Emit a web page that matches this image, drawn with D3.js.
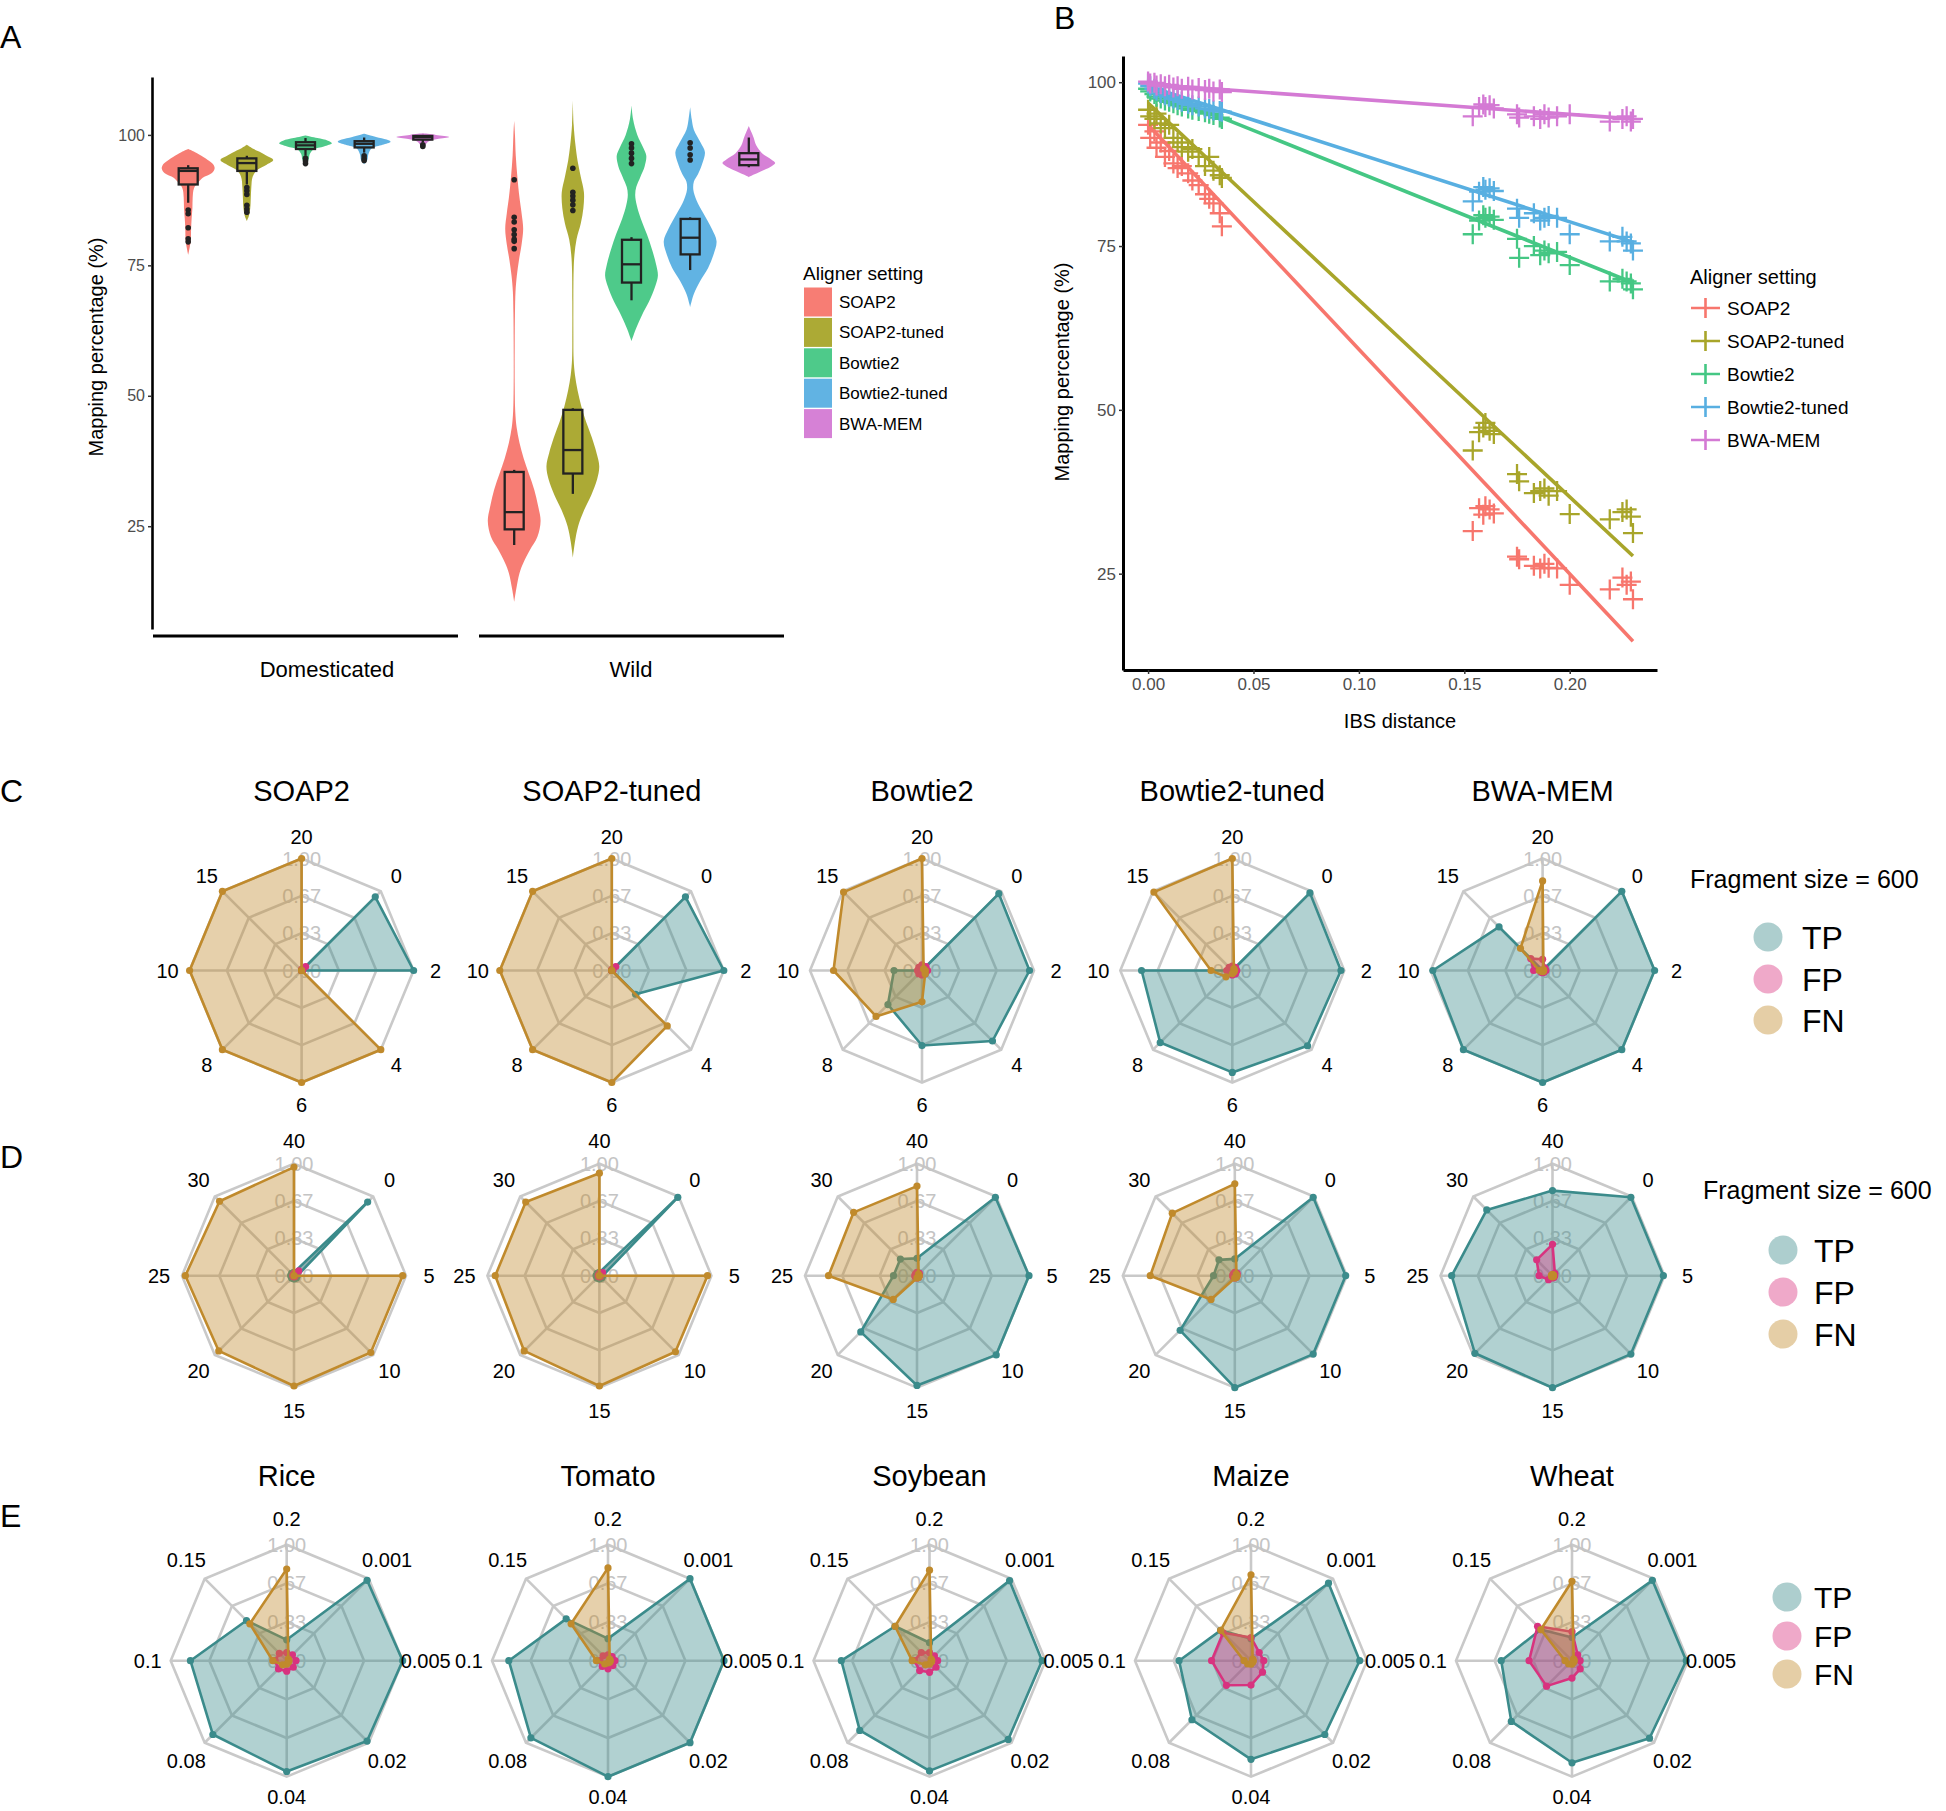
<!DOCTYPE html>
<html><head><meta charset="utf-8">
<script src="https://cdn.jsdelivr.net/npm/d3@7"></script>
<style>
body{margin:0;background:#fff}
svg{display:block}
text{font-family:"Liberation Sans",Arial,Helvetica,sans-serif}
</style>
</head><body>
<svg id="chart" width="1946" height="1811"></svg>
<script>
// ---------------- DATA ----------------
const aligners = ["SOAP2","SOAP2-tuned","Bowtie2","Bowtie2-tuned","BWA-MEM"];
const alignerColors = ["#F7766D","#A8A52A","#45C784","#58AFE1","#D47AD4"];
const groups = ["Domesticated","Wild"];
const yTicksA = [25,50,75,100];

// violin density profiles: [mapping %, relative width]
const domViolins = [
  [[97.3,0],[96.6,0.3],[96,0.5],[95,0.8],[94.2,0.97],[93.5,1.0],[92.7,0.9],[91.8,0.55],[91,0.4],[89.8,0.22],[88,0.17],[86,0.16],[84,0.13],[82,0.11],[80,0.1],[78.5,0.06],[77,0]],
  [[98.1,0],[97.4,0.22],[96.6,0.55],[96,0.75],[95.2,1.0],[94.3,0.75],[93.3,0.4],[92,0.22],[90,0.17],[88,0.15],[86,0.13],[84.5,0.08],[83.5,0]],
  [[99.9,0],[99.4,0.45],[98.9,0.85],[98.4,1.0],[97.8,0.7],[97.2,0.3],[96.3,0.16],[95.3,0.12],[94.2,0]],
  [[100.2,0],[99.6,0.45],[99.1,0.85],[98.7,1.0],[98.1,0.7],[97.4,0.28],[96.3,0.16],[95.2,0.12],[94.4,0]],
  [[100.3,0],[100,0.5],[99.6,1.0],[99.2,0.55],[98.7,0.2],[98.1,0.1],[97.5,0]]
];
const wildViolins = [
  [[102.7,0],[100,0.03],[96,0.06],[92,0.12],[88,0.2],[85,0.28],[82,0.34],[79,0.28],[76,0.18],[73,0.1],[70,0.05],[66,0.03],[60,0.02],[52,0.02],[47,0.04],[44,0.09],[41,0.2],[38,0.36],[35,0.56],[32,0.76],[29,0.9],[26,1.0],[23,0.88],[20.5,0.6],[18,0.35],[16,0.2],[13,0.08],[10.5,0]],
  [[106.6,0],[102,0.03],[98,0.1],[95,0.18],[92,0.3],[89,0.42],[86,0.4],[83,0.3],[80,0.14],[77,0.06],[74,0.03],[68,0.02],[62,0.02],[57,0.03],[54,0.08],[51,0.18],[48,0.32],[45,0.5],[42,0.72],[39,0.9],[36.5,1.0],[34,0.92],[31,0.7],[28,0.42],[25,0.2],[22,0.08],[19,0]],
  [[105.7,0],[103,0.06],[100,0.22],[97.5,0.45],[96,0.56],[94,0.5],[92,0.34],[90,0.18],[88.5,0.14],[86.5,0.2],[84,0.35],[81,0.58],[78,0.78],[75,0.94],[73,1.0],[71,0.9],[68,0.66],[65.5,0.4],[63,0.18],[60.5,0]],
  [[105.3,0],[103,0.06],[101,0.14],[98.5,0.4],[96.7,0.56],[94.5,0.46],[92.5,0.3],[91,0.14],[89.5,0.12],[87.5,0.24],[85,0.5],[82,0.82],[79.6,1.0],[77,0.88],[74.5,0.68],[72,0.38],[69.5,0.14],[67,0]],
  [[101.7,0],[100.5,0.1],[99.5,0.18],[98,0.28],[96.5,0.5],[95.3,0.85],[94.6,1.0],[93.8,0.8],[93,0.45],[92.3,0.15],[91.9,0]]
];
// box stats: [q1, median, q3, whisker low, whisker high]
const domBoxes = [[90.5,93.1,93.6,87.0,94.2],[93.1,94.6,95.5,90.5,96.0],[97.3,98.0,98.6,96.0,99.4],[97.6,98.3,98.8,96.6,99.5],[99.1,99.6,99.8,98.6,100.0]];
const wildBoxes = [[24.4,27.7,35.4,21.4,35.8],[35.1,39.6,47.3,31.2,47.6],[71.7,75.2,79.9,68.3,80.4],[77.1,80.3,83.9,74.1,84.2],[94.2,95.3,96.5,93.8,99.5]];
const domOutliers = [[85.6,84.9,82.2,80.1,79.5],[89.9,89.3,88.6,86.5,85.8,85.2],[95.5,95.0,94.5],[96.0,95.5,95.1],[98.1,97.8]];
const wildOutliers = [[91.4,84.2,83.3,81.8,80.9,80.0,79.6,78.2],[93.6,89.0,88.3,87.5,86.6,85.5],[98.3,97.5,96.5,95.5,94.5],[98.5,97.5,96.2,95.2],[]];

// panel B: IBS distance vs mapping %
const ibsDistance = [0.000,0.001,0.003,0.004,0.006,0.008,0.010,0.012,0.014,0.016,0.019,0.021,0.024,0.027,0.029,0.031,0.034,0.035,
  0.154,0.157,0.159,0.160,0.162,0.164,0.175,0.176,0.183,0.186,0.188,0.190,0.194,0.200,0.219,0.225,0.227,0.229,0.230];
const mapSOAP2 = [93.5,91.5,92.5,90.0,90.8,88.6,89.5,87.6,86.9,87.2,86.1,85.0,84.3,82.9,82.2,81.5,80.0,78.0,
  31.5,35.0,34.0,35.3,34.8,34.2,27.6,27.2,26.2,25.8,26.5,25.9,25.8,23.3,22.6,24.4,23.3,23.8,21.1];
const mapSOAP2tuned = [95.8,94.8,94.4,95.2,93.7,93.0,93.5,91.5,90.8,90.1,89.4,89.8,88.6,87.2,88.6,86.5,85.8,85.4,
  43.8,46.6,47.3,48.0,46.8,46.3,40.2,39.1,37.3,37.6,38.0,36.9,37.6,34.1,33.3,34.4,34.8,33.7,31.2];
const mapBowtie2 = [99.0,98.6,98.2,97.8,97.5,97.2,97.0,96.8,96.5,96.3,96.0,95.8,95.6,95.4,95.2,95.0,94.6,94.4,
  76.8,78.9,79.7,79.3,79.5,79.0,76.1,73.2,75.0,73.6,74.3,73.9,74.1,72.1,69.6,70.0,69.6,69.3,68.4];
const mapBowtie2tuned = [99.8,99.4,99.0,98.7,98.3,98.0,97.8,97.5,97.3,97.0,96.7,96.5,96.3,96.0,95.9,95.7,95.6,95.5,
  81.8,83.3,84.0,83.6,83.8,83.4,80.7,79.3,80.0,78.9,79.3,79.6,79.3,76.8,75.7,76.4,75.7,75.4,74.3];
const mapBWAMEM = [100.1,99.8,99.9,99.5,99.7,99.4,99.6,99.2,99.4,99.0,99.3,98.9,99.1,98.8,99.0,98.6,98.9,98.5,
  94.8,96.2,96.6,96.2,96.5,96.0,95.1,94.6,94.8,94.4,95.1,94.6,94.8,95.1,94.0,94.4,94.8,94.0,94.4];
// fitted linear trend, value at IBS 0 and at IBS 0.23
const fitRange = [0, 0.23];
const fitStart = [93.5, 96.8, 99.1, 99.4, 99.7];
const fitEnd = [14.7, 27.7, 69.4, 75.6, 94.4];
const xTicksB = [0, 0.05, 0.10, 0.15, 0.20];
const yTicksB = [25, 50, 75, 100];

// radar panels
const radarSeries = ["TP","FP","FN"];
const radarColors = ["#3b8b8b","#d8337f","#c08a2c"];
const gridLevels = [0.333, 0.667, 1.0];
const gridLabels = ["0.00","0.33","0.67","1.00"];
const cCats = ["0","2","4","6","8","10","15","20"];
const cTP = [[0.93,1.0,0,0,0,0,0,0],[0.93,1.0,0.3,0,0,0,0,0],[0.97,0.96,0.89,0.67,0.43,0.25,0,0],[0.98,0.97,0.95,0.91,0.91,0.81,0,0],[1.0,1.0,1.0,1.0,1.0,0.98,0.55,0]];
const cFP = [[0.05,0.01,0,0,0,0,0,0.01],[0.05,0.01,0,0,0,0,0,0.01],[0.05,0.05,0.04,0.04,0.04,0.04,0.04,0.05],[0.04,0.04,0.04,0.04,0.04,0.05,0.04,0.04],[0.03,0.03,0.02,0.02,0.02,0.08,0.15,0.1]];
const cFN = [[0,0,1.0,1.0,1.0,1.0,1.0,1.0],[0,0,0.7,1.0,1.0,1.0,1.0,1.0],[0.02,0.03,0.04,0.28,0.58,0.79,0.99,1.0],[0.02,0.02,0.02,0.03,0.08,0.19,0.99,1.0],[0.01,0.01,0.01,0.01,0.01,0.03,0.28,0.8]];
const dCats = ["0","5","10","15","20","25","30","40"];
const dTP = [[0.93,0.03,0.03,0.03,0.03,0.03,0.03,0.03],[0.99,0.03,0.03,0.03,0.03,0.03,0.03,0.03],[0.99,1.0,1.0,0.98,0.71,0.21,0.21,0.155],[0.99,0.99,0.99,1.0,0.69,0.19,0.2,0.15],[0.99,0.99,0.99,1.0,0.98,0.9,0.83,0.76]];
const dFP = [[0.06,0.01,0.01,0.01,0.01,0.01,0.01,0.02],[0.04,0.01,0.01,0.01,0.01,0.01,0.01,0.02],[0.03,0.02,0.02,0.02,0.02,0.02,0.02,0.03],[0.03,0.02,0.02,0.02,0.02,0.02,0.02,0.03],[0.03,0.02,0.02,0.02,0.05,0.12,0.2,0.28]];
const dFN = [[0,0.97,0.97,0.985,0.95,0.97,0.94,0.97],[0,0.965,0.96,0.985,0.95,0.93,0.93,0.915],[0.02,0.02,0.02,0.02,0.3,0.79,0.8,0.8],[0.02,0.02,0.02,0.02,0.3,0.755,0.79,0.82],[0.01,0.01,0.01,0.01,0.01,0.01,0.01,0.01]];
const species = ["Rice","Tomato","Soybean","Maize","Wheat"];
const eCats = ["0.001","0.005","0.02","0.04","0.08","0.1","0.15","0.2"];
const eTP = [[0.98,1.0,0.98,0.955,0.9,0.83,0.49,0.18],[1.0,1.0,1.0,1.0,0.94,0.855,0.51,0.19],[0.976,0.97,0.96,0.95,0.85,0.76,0.42,0.155],[0.945,0.937,0.9,0.85,0.72,0.62,0.37,0.19],[0.98,0.985,0.945,0.88,0.74,0.61,0.38,0.2]];
const eFP = [[0.07,0.08,0.08,0.09,0.1,0.1,0.09,0.07],[0.05,0.06,0.06,0.07,0.07,0.07,0.06,0.05],[0.06,0.07,0.08,0.1,0.12,0.13,0.1,0.07],[0.1,0.11,0.14,0.21,0.3,0.34,0.34,0.2],[0.07,0.07,0.1,0.15,0.31,0.37,0.42,0.25]];
const eFN = [[0.02,0.02,0.02,0.03,0.05,0.12,0.45,0.79],[0.02,0.02,0.02,0.02,0.04,0.1,0.45,0.8],[0.02,0.02,0.02,0.03,0.05,0.15,0.42,0.78],[0.02,0.02,0.02,0.03,0.04,0.06,0.37,0.74],[0.02,0.02,0.02,0.03,0.04,0.06,0.38,0.685]];
const fragmentLabel = "Fragment size = 600";

// ---------------- DRAW ----------------
const svg = d3.select("#chart");
svg.append("rect").attr("width",1946).attr("height",1811).attr("fill","#fff");

function panelLetter(t,x,y){
  svg.append("text").attr("x",x).attr("y",y).attr("font-size",32).attr("fill","#000").text(t);
}
panelLetter("A",0,48); panelLetter("B",1054,29); panelLetter("C",0,802); panelLetter("D",0,1168); panelLetter("E",0,1527);

// ===== Panel A =====
const yA = d3.scaleLinear().domain([5.3,111.1]).range([629,77]);
const facetRanges = [[153,458],[479,784]];
const gA = svg.append("g");
const axA = gA.append("g").attr("transform","translate(152,0)")
  .call(d3.axisLeft(yA).tickValues(yTicksA).tickSize(4).tickSizeOuter(0).tickPadding(3));
axA.select(".domain").attr("stroke","#000").attr("stroke-width",2.6);
axA.selectAll(".tick line").attr("stroke","#333").attr("stroke-width",1.5);
axA.selectAll(".tick text").attr("font-size",16).attr("fill","#4d4d4d").attr("font-family","Liberation Sans, Arial, sans-serif");
gA.append("text").attr("transform","translate(103,347) rotate(-90)").attr("text-anchor","middle")
  .attr("font-size",20).text("Mapping percentage (%)");

const violinSets = [domViolins, wildViolins];
const boxSets = [domBoxes, wildBoxes];
const outlierSets = [domOutliers, wildOutliers];
const groupLabelX = [327, 631];
groups.forEach((grp,gi)=>{
  const xb = d3.scaleBand().domain(aligners).range(facetRanges[gi]).paddingInner(0).paddingOuter(0.1);
  const hw = xb.bandwidth()*0.45;
  const bw = 19;
  aligners.forEach((a,ai)=>{
    const cx = xb(a) + xb.bandwidth()/2;
    const area = d3.area().y(d=>yA(d[0])).x0(d=>cx - d[1]*hw).x1(d=>cx + d[1]*hw).curve(d3.curveCatmullRom);
    gA.append("path").attr("d",area(violinSets[gi][ai])).attr("fill",alignerColors[ai]).attr("fill-opacity",0.95);
    const b = boxSets[gi][ai];
    const sw = 2.3, bc = "#222";
    gA.append("line").attr("x1",cx).attr("x2",cx).attr("y1",yA(b[2])).attr("y2",yA(b[4])).attr("stroke",bc).attr("stroke-width",sw);
    gA.append("line").attr("x1",cx).attr("x2",cx).attr("y1",yA(b[0])).attr("y2",yA(b[3])).attr("stroke",bc).attr("stroke-width",sw);
    gA.append("rect").attr("x",cx-bw/2).attr("width",bw).attr("y",yA(b[2])).attr("height",yA(b[0])-yA(b[2]))
      .attr("fill","none").attr("stroke",bc).attr("stroke-width",sw);
    gA.append("line").attr("x1",cx-bw/2).attr("x2",cx+bw/2).attr("y1",yA(b[1])).attr("y2",yA(b[1])).attr("stroke",bc).attr("stroke-width",sw);
    outlierSets[gi][ai].forEach(v=>{
      gA.append("circle").attr("cx",cx).attr("cy",yA(v)).attr("r",2.8).attr("fill",bc);
    });
  });
  gA.append("line").attr("x1",facetRanges[gi][0]).attr("x2",facetRanges[gi][1]).attr("y1",636).attr("y2",636)
    .attr("stroke","#000").attr("stroke-width",3);
  gA.append("text").attr("x",groupLabelX[gi]).attr("y",677).attr("text-anchor","middle").attr("font-size",22).text(grp);
});
// legend A
const lgA = svg.append("g");
lgA.append("text").attr("x",803).attr("y",280).attr("font-size",19).text("Aligner setting");
aligners.forEach((a,i)=>{
  const cy = 302 + i*30.4;
  lgA.append("rect").attr("x",804).attr("y",cy-14.5).attr("width",28).attr("height",29).attr("fill",alignerColors[i]).attr("fill-opacity",0.95);
  lgA.append("text").attr("x",839).attr("y",cy).attr("dy","0.35em").attr("font-size",17).text(a);
});

// ===== Panel B =====
const xB = d3.scaleLinear().domain([-0.0119,0.2414]).range([1123,1657]);
const yB = d3.scaleLinear().domain([10.3,104]).range([670,56]);
const gB = svg.append("g");
const axBy = gB.append("g").attr("transform","translate(1123,0)")
  .call(d3.axisLeft(yB).tickValues(yTicksB).tickSize(4).tickSizeOuter(0).tickPadding(3));
const axBx = gB.append("g").attr("transform","translate(0,670)")
  .call(d3.axisBottom(xB).tickValues(xTicksB).tickFormat(d3.format(".2f")).tickSize(4).tickSizeOuter(0).tickPadding(4));
[axBy,axBx].forEach(ax=>{
  ax.select(".domain").attr("stroke","#000").attr("stroke-width",3);
  ax.selectAll(".tick line").attr("stroke","#333").attr("stroke-width",1.5);
  ax.selectAll(".tick text").attr("font-size",17).attr("fill","#4d4d4d").attr("font-family","Liberation Sans, Arial, sans-serif");
});
gB.append("text").attr("transform","translate(1069,372) rotate(-90)").attr("text-anchor","middle").attr("font-size",20).text("Mapping percentage (%)");
gB.append("text").attr("x",1400).attr("y",728).attr("text-anchor","middle").attr("font-size",20).text("IBS distance");
const mapSeries = [mapSOAP2,mapSOAP2tuned,mapBowtie2,mapBowtie2tuned,mapBWAMEM];
const crossPath = "M-10,0H10M0,-10V10";
mapSeries.forEach((vals,si)=>{
  const col = alignerColors[si];
  vals.forEach((v,i)=>{
    gB.append("path").attr("d",crossPath).attr("transform",`translate(${xB(ibsDistance[i])},${yB(v)})`)
      .attr("stroke",col).attr("stroke-width",2.3).attr("fill","none");
  });
  const ln = d3.line().x(d=>xB(d[0])).y(d=>yB(d[1]));
  gB.append("path").attr("d",ln([[fitRange[0],fitStart[si]],[fitRange[1],fitEnd[si]]]))
    .attr("stroke",col).attr("stroke-width",3.6).attr("fill","none");
});
const lgB = svg.append("g");
lgB.append("text").attr("x",1690).attr("y",284).attr("font-size",20).text("Aligner setting");
aligners.forEach((a,i)=>{
  const cy = 308 + i*33;
  lgB.append("path").attr("d","M1691,"+cy+"H1720M1705.5,"+(cy-10)+"V"+(cy+10)).attr("stroke",alignerColors[i]).attr("stroke-width",2.6);
  lgB.append("text").attr("x",1727).attr("y",cy).attr("dy","0.35em").attr("font-size",19).text(a);
});

// ===== Radar panels =====
function radar(cx, cy, R, labelR, cats, seriesVals, title, titleY){
  const g = svg.append("g").attr("transform",`translate(${cx},${cy})`);
  const r = d3.scaleLinear().domain([0,1]).range([0,R]);
  const ang = i => (i+1)*Math.PI/4;
  const ring = v => d3.lineRadial().angle((d,i)=>ang(i)).radius(()=>r(v)).curve(d3.curveLinearClosed)(cats);
  gridLevels.forEach(v=>{
    g.append("path").attr("d",ring(v)).attr("fill","none").attr("stroke","#c9c9c9").attr("stroke-width",2.6);
  });
  cats.forEach((c,i)=>{
    g.append("line").attr("x1",0).attr("y1",0).attr("x2",r(1)*Math.sin(ang(i))).attr("y2",-r(1)*Math.cos(ang(i)))
      .attr("stroke","#c9c9c9").attr("stroke-width",2.6);
  });
  [0].concat(gridLevels).forEach((v,k)=>{
    g.append("text").attr("x",0).attr("y",-r(v)).attr("dy","0.35em").attr("text-anchor","middle")
      .attr("font-size",20).attr("fill","#c4c4c4").text(gridLabels[k]);
  });
  seriesVals.forEach((vals,si)=>{
    const line = d3.lineRadial().angle((d,i)=>ang(i)).radius(d=>r(d)).curve(d3.curveLinearClosed);
    g.append("path").attr("d",line(vals)).attr("fill",radarColors[si]).attr("fill-opacity",0.4)
      .attr("stroke",radarColors[si]).attr("stroke-width",2.6).attr("stroke-linejoin","round");
    vals.forEach((v,i)=>{
      g.append("circle").attr("cx",r(v)*Math.sin(ang(i))).attr("cy",-r(v)*Math.cos(ang(i))).attr("r",3.6).attr("fill",radarColors[si]);
    });
  });
  cats.forEach((c,i)=>{
    const lr = labelR[i] !== undefined ? labelR[i] : labelR;
    g.append("text").attr("x",lr*Math.sin(ang(i))).attr("y",-lr*Math.cos(ang(i))).attr("dy","0.35em")
      .attr("text-anchor","middle").attr("font-size",20).attr("fill","#000").text(c);
  });
  if(title){
    svg.append("text").attr("x",cx).attr("y",titleY).attr("text-anchor","middle").attr("font-size",29).text(title);
  }
}
const cCenters = [301.6, 611.8, 922, 1232.3, 1542.6];
const dCenters = [294, 599.4, 917, 1234.8, 1552.5];
const eCenters = [286.7, 608, 929.5, 1251, 1572];
const eLabelR = [142,139,142,136,142,139,142,142];
aligners.forEach((a,i)=> radar(cCenters[i], 970.5, 112, 134, cCats, [cTP[i],cFP[i],cFN[i]], a, 801));
aligners.forEach((a,i)=> radar(dCenters[i], 1275.7, 112, 135, dCats, [dTP[i],dFP[i],dFN[i]], null, 0));
species.forEach((s,i)=> radar(eCenters[i], 1660.7, 116, eLabelR, eCats, [eTP[i],eFP[i],eFN[i]], s, 1486));

function radarLegend(x, ys, labelX, fs, title, tx, ty){
  const g = svg.append("g");
  if(title) g.append("text").attr("x",tx).attr("y",ty).attr("font-size",25).text(title);
  radarSeries.forEach((s,i)=>{
    g.append("circle").attr("cx",x).attr("cy",ys[i]).attr("r",14.5).attr("fill",radarColors[i]).attr("fill-opacity",0.42);
    g.append("text").attr("x",labelX).attr("y",ys[i]).attr("dy","0.36em").attr("font-size",fs).text(s);
  });
}
radarLegend(1768, [937,979,1020], 1802, 32, fragmentLabel, 1690, 888);
radarLegend(1783, [1250,1292,1334], 1814, 32, fragmentLabel, 1703, 1199);
radarLegend(1787, [1597,1636,1674], 1814, 30, null, 0, 0);
</script>
</body></html>
